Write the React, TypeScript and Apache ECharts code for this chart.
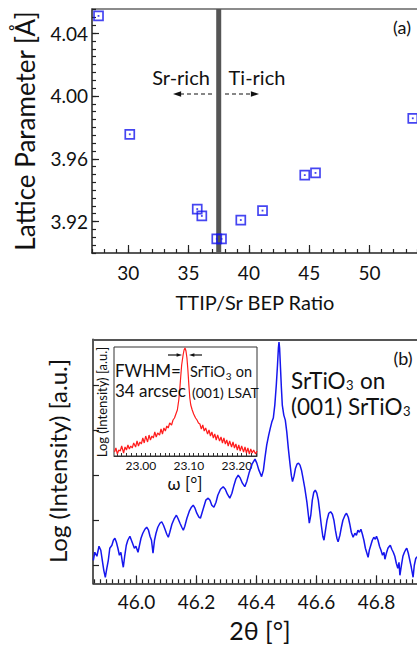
import React, { useEffect, useRef } from "react";
import * as echarts from "echarts";

// ---------- Panel (a): lattice parameter vs TTIP/Sr BEP ratio ----------
const bepRatio = [27.54, 30.13, 35.72, 36.1, 37.34, 37.73, 39.33, 41.13, 44.63, 45.52, 53.58];
const latticeA = [4.051, 3.9756, 3.928, 3.9236, 3.909, 3.909, 3.921, 3.927, 3.9496, 3.951, 3.9858];
const stoichRatio = 37.5;
const ratioTicks = [30, 35, 40, 45, 50];
const latticeTicks = [3.92, 3.96, 4.0, 4.04];
const ratioMin = 27;
const ratioMax = 53.93;
const latticeMin = 3.9;
const latticeMax = 4.0554;

// ---------- Panel (b): 2theta scan (log intensity, a.u.) ----------
const twoTheta = [
  45.856, 45.861, 45.868, 45.875, 45.881, 45.886, 45.891, 45.896, 45.901, 45.906,
  45.911, 45.918, 45.923, 45.928, 45.933, 45.938, 45.943, 45.948, 45.953, 45.956,
  45.961, 45.966, 45.971, 45.978, 45.983, 45.988, 45.993, 45.998, 46.005, 46.01,
  46.015, 46.021, 46.028, 46.034, 46.04, 46.045, 46.05, 46.055, 46.06, 46.065,
  46.071, 46.078, 46.084, 46.09, 46.095, 46.101, 46.106, 46.111, 46.118, 46.125,
  46.133, 46.138, 46.145, 46.151, 46.156, 46.161, 46.168, 46.176, 46.183, 46.189,
  46.195, 46.201, 46.208, 46.213, 46.218, 46.225, 46.231, 46.239, 46.245, 46.251,
  46.258, 46.265, 46.271, 46.28, 46.289, 46.296, 46.303, 46.311, 46.318, 46.325,
  46.331, 46.339, 46.346, 46.353, 46.361, 46.368, 46.376, 46.385, 46.395, 46.401,
  46.408, 46.417, 46.423, 46.428, 46.434, 46.44, 46.446, 46.451, 46.456, 46.461,
  46.466, 46.47, 46.473, 46.475, 46.477, 46.48, 46.483, 46.486, 46.491, 46.496,
  46.501, 46.506, 46.511, 46.516, 46.52, 46.525, 46.53, 46.535, 46.54, 46.545,
  46.55, 46.555, 46.561, 46.568, 46.573, 46.576, 46.581, 46.586, 46.591, 46.596,
  46.601, 46.606, 46.611, 46.616, 46.621, 46.625, 46.63, 46.635, 46.641, 46.647,
  46.653, 46.658, 46.663, 46.668, 46.672, 46.678, 46.683, 46.688, 46.695, 46.7,
  46.706, 46.711, 46.716, 46.722, 46.728, 46.733, 46.738, 46.743, 46.748, 46.753,
  46.758, 46.763, 46.768, 46.772, 46.776, 46.781, 46.786, 46.791, 46.796, 46.8,
  46.805, 46.81, 46.815, 46.82, 46.825, 46.828, 46.833, 46.838, 46.843, 46.846,
  46.851, 46.856, 46.861, 46.866, 46.871, 46.875, 46.878, 46.883, 46.888, 46.893,
  46.898, 46.901, 46.906, 46.911, 46.916, 46.919, 46.922, 46.926, 46.931, 46.938,
  46.945,
];
const logIntensity = [
  2.3, 3.1, 2.7, 3.7, 3.3, 2.3, 1.3, 0.6, 1.5, 2.3,
  3.5, 3.8, 4.3, 4.5, 4.1, 3.5, 2.8, 3.1, 2.1, 1.6,
  2.8, 3.8, 4.3, 4.7, 4.3, 3.9, 3.5, 3.7, 3.1, 3.8,
  4.5, 5.0, 5.4, 5.6, 5.3, 4.7, 4.3, 3.0, 4.3, 5.0,
  5.6, 6.0, 6.15, 5.8, 5.4, 4.9, 4.6, 5.1, 5.9, 6.4,
  6.8, 6.5, 6.0, 5.6, 5.3, 5.7, 6.5, 7.2, 7.6, 7.8,
  7.5, 7.0, 6.6, 6.5, 7.0, 7.7, 8.3, 8.5, 8.3, 7.8,
  7.6, 8.1, 8.8, 9.4, 9.65, 9.4, 8.9, 8.5, 9.0, 9.8,
  10.4, 10.8, 10.5, 10.0, 9.65, 10.2, 11.1, 11.9, 12.4, 12.0,
  11.3, 10.65, 11.3, 12.5, 13.8, 14.7, 15.5, 16.1, 16.5, 17.8,
  19.8, 21.8, 23.5, 24.1, 23.5, 21.5, 19.5, 17.8, 16.8, 16.3,
  15.1, 13.5, 12.1, 10.8, 10.15, 10.7, 11.5, 11.9, 12.0, 11.8,
  11.3, 10.5, 9.5, 8.1, 6.8, 6.0, 6.8, 8.3, 9.1, 9.3,
  9.0, 8.3, 7.1, 5.8, 4.7, 4.3, 5.3, 6.3, 7.0, 7.15,
  6.9, 6.3, 5.3, 4.5, 4.15, 4.8, 5.6, 6.3, 6.8, 7.0,
  6.6, 5.9, 5.1, 4.6, 5.0, 4.8, 5.3, 5.1, 5.4, 4.9,
  4.3, 3.5, 3.0, 2.6, 3.3, 3.8, 4.3, 4.6, 4.4, 4.7,
  4.3, 3.7, 3.3, 2.8, 3.1, 2.4, 3.0, 3.5, 3.7, 3.8,
  3.4, 3.1, 2.7, 2.0, 1.5, 2.1, 0.8, 1.8, 2.7, 3.1,
  3.4, 3.5, 3.0, 2.3, 1.6, 1.1, 0.6, 1.8, 2.5, 2.7,
  2.3,
];
const twoThetaTicks = [46.0, 46.2, 46.4, 46.6, 46.8];
const twoThetaMin = 45.855;
const twoThetaMax = 46.935;
const logIMax = 24.37;
const logITicks = [1.8, 6.3, 10.8, 15.3, 19.8];

// ---------- Inset: rocking curve (omega) ----------
const omega = [
  22.945, 22.948, 22.951, 22.954, 22.957, 22.96, 22.964, 22.967, 22.97, 22.973,
  22.976, 22.979, 22.982, 22.985, 22.989, 22.992, 22.995, 22.998, 23.001, 23.004,
  23.007, 23.01, 23.014, 23.017, 23.02, 23.023, 23.026, 23.029, 23.032, 23.035,
  23.039, 23.042, 23.045, 23.048, 23.051, 23.054, 23.057, 23.06, 23.064, 23.067,
  23.07, 23.073, 23.076, 23.079, 23.081, 23.083, 23.085, 23.088, 23.09, 23.092,
  23.094, 23.096, 23.098, 23.1, 23.102, 23.104, 23.107, 23.11, 23.114, 23.117,
  23.12, 23.123, 23.126, 23.129, 23.132, 23.135, 23.139, 23.142, 23.145, 23.148,
  23.151, 23.154, 23.157, 23.16, 23.164, 23.167, 23.17, 23.173, 23.176, 23.179,
  23.182, 23.185, 23.189, 23.192, 23.195, 23.198, 23.201, 23.204, 23.207, 23.21,
  23.214, 23.217, 23.22, 23.223, 23.226, 23.229, 23.232, 23.235, 23.239, 23.242,
];
const omegaLogI = [
  0.4, 0.8, 0.2, 0.6, 0.5, 1.0, 0.3, 0.9, 0.6, 1.1,
  0.7, 1.0, 0.8, 1.3, 0.9, 1.5, 1.0, 1.4, 1.2, 1.8,
  1.3, 2.0, 1.4, 2.1, 1.6, 2.0, 1.8, 2.4, 1.9, 2.3,
  2.1, 2.7, 2.2, 2.8, 2.5, 3.0, 2.8, 3.3, 3.1, 3.6,
  3.8, 4.2, 4.6, 5.6, 6.6, 7.9, 9.1, 10.1, 10.6, 10.8,
  10.5, 9.8, 8.6, 7.1, 5.8, 5.1, 4.6, 4.2, 3.8, 3.6,
  3.3, 3.2, 2.7, 3.1, 2.5, 2.8, 2.2, 2.6, 2.0, 2.4,
  1.8, 2.2, 1.6, 2.1, 1.5, 1.9, 1.3, 1.8, 1.2, 1.6,
  1.0, 1.5, 0.9, 1.4, 0.8, 1.2, 0.6, 1.1, 0.5, 1.0,
  0.4, 0.9, 0.3, 0.8, 0.2, 0.7, 0.3, 0.6, 0.2, 0.5,
];
const omegaTicks = [23.0, 23.1, 23.2];
const omegaMin = 22.944;
const omegaMax = 23.242;
const omegaLogIMax = 10.9;

const FONT = 'Lato, "Open Sans", "DejaVu Sans", sans-serif';
const BLUE = "#1616ee";
const RED = "#ff1c1c";
const INK = "#111";

function steps(from: number, to: number, step: number, digits: number) {
  const out: number[] = [];
  const n = Math.round((to - from) / step);
  for (let i = 0; i <= n; i++) out.push(+(from + i * step).toFixed(digits));
  return out;
}

function measure(text: string, size: number) {
  const ctx = document.createElement("canvas").getContext("2d");
  if (!ctx) return text.length * size * 0.5;
  ctx.font = `${size}px Lato`;
  return ctx.measureText(text).width;
}

function txt(text: string, x: number, y: number, size: number, align = "left", extra: any = {}) {
  return {
    type: "text",
    x,
    y,
    z: 100,
    ...extra,
    style: {
      text,
      fontSize: size,
      fontFamily: FONT,
      fill: INK,
      textAlign: align,
      align,
      textVerticalAlign: "middle",
      verticalAlign: "middle",
    },
  };
}

function subscripted(parts: [string, string, string], x: number, y: number, size: number, subSize: number, subDy: number) {
  const w1 = measure(parts[0], size);
  const w2 = measure(parts[1], subSize);
  const out: any[] = [
    txt(parts[0], x, y, size),
    txt(parts[1], x + w1 + 0.5, y + subDy, subSize),
  ];
  if (parts[2]) out.push(txt(parts[2], x + w1 + w2 + 1, y, size));
  return out;
}

function arrow(x1: number, y: number, x2: number, head: number, dashed: boolean) {
  const dir = x2 > x1 ? 1 : -1;
  return [
    {
      type: "line",
      z: 100,
      shape: { x1, y1: y, x2: x2 - dir * head, y2: y },
      style: { stroke: INK, lineWidth: 1.2, lineDash: dashed ? [4, 3] : null },
    },
    {
      type: "polygon",
      z: 100,
      shape: {
        points: [
          [x2, y],
          [x2 - dir * head * 1.8, y - head * 0.6],
          [x2 - dir * head * 1.8, y + head * 0.6],
        ],
      },
      style: { fill: INK },
    },
  ];
}

export default function App() {
  const ref = useRef<HTMLDivElement>(null);

  useEffect(() => {
    if (!ref.current) return;
    const chart = echarts.init(ref.current, null, { renderer: "svg" });

    const axisLine = { lineStyle: { color: "#222", width: 1.5 } };
    const tickStyle = { color: "#222", width: 1.2 };
    const labelBase = { color: INK, fontFamily: FONT };

    const scatterData = bepRatio.map((r, i) => [r, latticeA[i]]);
    const curveData = twoTheta.map((t, i) => [t, logIntensity[i]]);
    const insetData = omega.map((w, i) => [w, omegaLogI[i]]);

    const option: any = {
      animation: false,
      textStyle: { fontFamily: FONT },
      grid: [
        { left: 92, right: 0, top: 9, height: 244 },
        { left: 93, right: 0, top: 339.3, height: 244 },
        {
          left: 114,
          top: 347,
          width: 143,
          height: 109,
          show: true,
          borderColor: "#333",
          borderWidth: 1,
          backgroundColor: "transparent",
        },
      ],
      xAxis: [
        {
          gridIndex: 0, type: "value", position: "bottom", min: ratioMin, max: ratioMax, interval: 1,
          axisLine: { ...axisLine, onZero: false },
          axisTick: { inside: true, length: 4, lineStyle: tickStyle },
          axisLabel: { show: false }, splitLine: { show: false },
        },
        {
          gridIndex: 0, type: "value", position: "bottom", min: ratioMin, max: ratioMax,
          axisLine: { show: false, onZero: false },
          axisTick: { inside: true, length: 8, customValues: ratioTicks, lineStyle: tickStyle },
          axisLabel: { ...labelBase, customValues: ratioTicks, fontSize: 19, margin: 10 },
          splitLine: { show: false },
        },
        {
          gridIndex: 0, type: "value", position: "top", min: ratioMin, max: ratioMax,
          axisLine: { lineStyle: { color: "#666", width: 1.5 }, onZero: false },
          axisTick: { show: false }, axisLabel: { show: false }, splitLine: { show: false },
        },
        {
          gridIndex: 1, type: "value", position: "bottom", min: twoThetaMin, max: twoThetaMax,
          axisLine: { ...axisLine, onZero: false },
          axisTick: { inside: true, length: 4, customValues: steps(45.86, 46.92, 0.02, 2), lineStyle: tickStyle },
          axisLabel: { show: false }, splitLine: { show: false },
        },
        {
          gridIndex: 1, type: "value", position: "bottom", min: twoThetaMin, max: twoThetaMax,
          axisLine: { show: false, onZero: false },
          axisTick: { inside: true, length: 8, customValues: twoThetaTicks, lineStyle: tickStyle },
          axisLabel: {
            ...labelBase, customValues: twoThetaTicks, fontSize: 19, margin: 9,
            formatter: (v: number) => v.toFixed(1),
          },
          splitLine: { show: false },
        },
        {
          gridIndex: 1, type: "value", position: "top", min: twoThetaMin, max: twoThetaMax,
          axisLine: { lineStyle: { color: "#555", width: 2.2 }, onZero: false },
          axisTick: { show: false }, axisLabel: { show: false }, splitLine: { show: false },
        },
        {
          gridIndex: 2, type: "value", position: "bottom", min: omegaMin, max: omegaMax,
          axisLine: { lineStyle: { color: "#333", width: 1 }, onZero: false },
          axisTick: { inside: true, length: 3, customValues: steps(22.95, 23.24, 0.01, 2), lineStyle: { color: "#333", width: 1 } },
          axisLabel: {
            ...labelBase, customValues: omegaTicks, fontSize: 12, margin: 3,
            formatter: (v: number) => v.toFixed(2),
          },
          splitLine: { show: false },
        },
      ],
      yAxis: [
        {
          gridIndex: 0, type: "value", position: "left", min: latticeMin, max: latticeMax, interval: 0.005,
          axisLine: { ...axisLine, onZero: false },
          axisTick: { inside: true, length: 4, lineStyle: tickStyle },
          axisLabel: { show: false }, splitLine: { show: false },
        },
        {
          gridIndex: 0, type: "value", position: "left", min: latticeMin, max: latticeMax,
          axisLine: { show: false, onZero: false },
          axisTick: { inside: true, length: 7, customValues: latticeTicks, lineStyle: tickStyle },
          axisLabel: {
            ...labelBase, customValues: latticeTicks, fontSize: 19, margin: 4,
            formatter: (v: number) => v.toFixed(2),
          },
          splitLine: { show: false },
        },
        {
          gridIndex: 1, type: "value", position: "left", min: 0, max: logIMax,
          axisLine: { ...axisLine, onZero: false },
          axisTick: { inside: true, length: 6, customValues: logITicks, lineStyle: tickStyle },
          axisLabel: { show: false }, splitLine: { show: false },
        },
        {
          gridIndex: 2, type: "value", position: "left", min: 0, max: omegaLogIMax,
          axisLine: { show: false }, axisTick: { show: false },
          axisLabel: { show: false }, splitLine: { show: false },
        },
      ],
      series: [
        {
          type: "line", xAxisIndex: 0, yAxisIndex: 0, z: 1,
          data: [[stoichRatio, latticeMin], [stoichRatio, latticeMax]],
          symbol: "none",
          lineStyle: { color: "#555", width: 5 },
        },
        {
          type: "scatter", xAxisIndex: 0, yAxisIndex: 0, z: 3,
          data: scatterData, symbol: "rect", symbolSize: 9,
          itemStyle: { color: "rgba(255,255,255,0)", borderColor: BLUE, borderWidth: 1.7 },
        },
        {
          type: "scatter", xAxisIndex: 0, yAxisIndex: 0, z: 4,
          data: scatterData, symbol: "rect", symbolSize: 1.8,
          itemStyle: { color: BLUE },
        },
        {
          type: "line", xAxisIndex: 3, yAxisIndex: 2, z: 3,
          data: curveData, symbol: "none", clip: true,
          lineStyle: { color: BLUE, width: 1.5 },
        },
        {
          type: "line", xAxisIndex: 6, yAxisIndex: 3, z: 3,
          data: insetData, symbol: "none", clip: true,
          lineStyle: { color: RED, width: 1.2 },
        },
      ],
      graphic: [
        // panel (a)
        txt("Lattice Parameter [Å]", 25, 131, 26, "center", { rotation: Math.PI / 2 }),
        txt("TTIP/Sr BEP Ratio", 255, 302, 20, "center"),
        txt("(a)", 402, 27, 18, "center"),
        txt("Sr-rich", 181, 77, 20, "center"),
        txt("Ti-rich", 257, 77, 20, "center"),
        ...arrow(212, 94, 173, 4.5, true),
        ...arrow(225, 94, 259, 4.5, true),
        // panel (b)
        txt("Log (Intensity) [a.u.]", 57, 461, 24, "center", { rotation: Math.PI / 2 }),
        txt("2θ [°]", 260, 630, 25, "center"),
        txt("(b)", 403, 358, 18, "center"),
        ...subscripted(["SrTiO", "3", " on"], 291, 380, 22.5, 13, 5),
        ...subscripted(["(001) SrTiO", "3", ""], 291, 406, 22.5, 13, 5),
        // inset
        txt("Log (Intensity) [a.u.]", 102, 402, 13, "center", { rotation: Math.PI / 2 }),
        txt("ω [°]", 185, 483, 17, "center"),
        txt("FWHM=", 115, 370, 17),
        txt("34 arcsec", 115, 390, 17),
        ...subscripted(["SrTiO", "3", " on"], 190, 371, 14.5, 10, 5),
        txt("(001) LSAT", 192, 392, 14),
        ...arrow(168, 355, 182, 3, false),
        ...arrow(202, 355, 189, 3, false),
      ],
    };

    chart.setOption(option);
    return () => chart.dispose();
  }, []);

  return (
    <div
      ref={ref}
      style={{ position: "absolute", left: 0, top: 0, width: 417, height: 646, background: "#fff" }}
    />
  );
}
